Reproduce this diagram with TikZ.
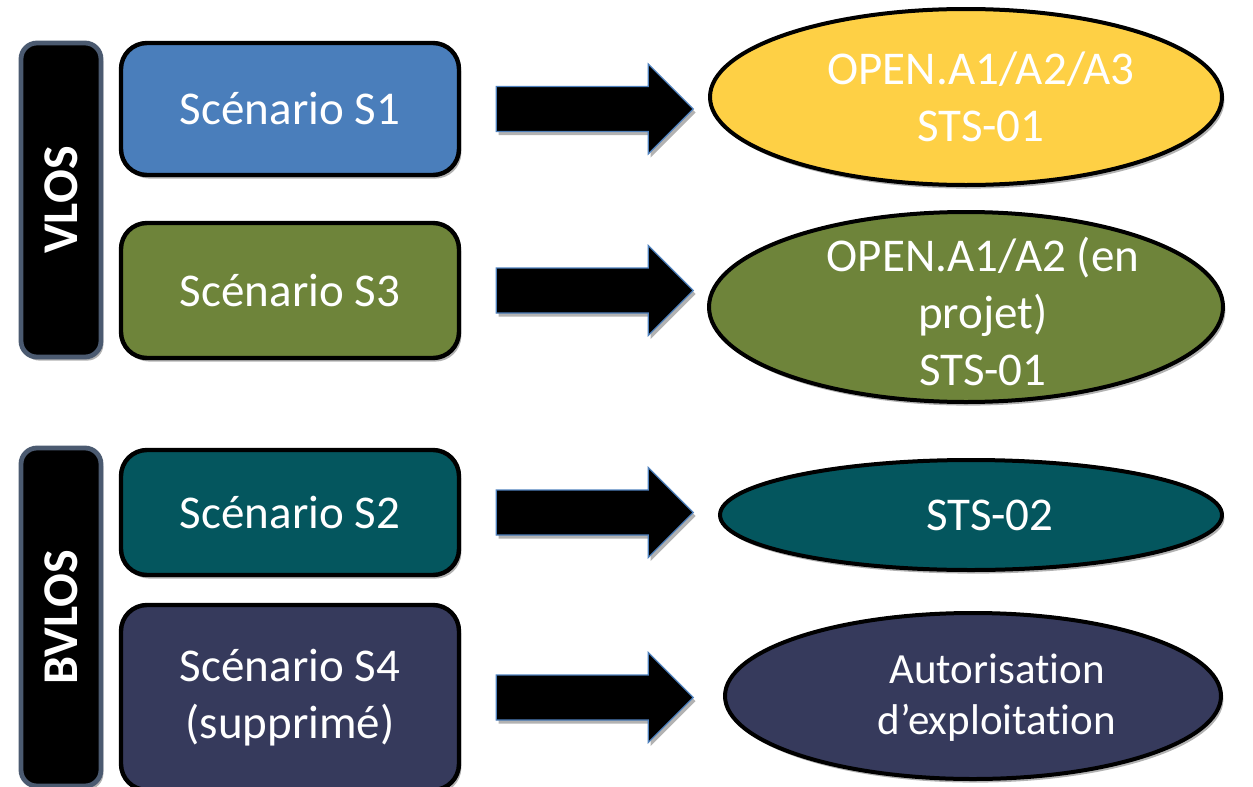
\documentclass[tikz,border=0pt]{standalone}
\usepackage{fontspec}
\setmainfont{Carlito}[Ligatures=NoCommon]
\usepackage{xcolor}
\usepackage{tikz}
\usetikzlibrary{shapes.geometric}
\usetikzlibrary{shadows}
\usetikzlibrary{calc}

\definecolor{scenOne}{HTML}{4A7EBB}
\definecolor{scenThree}{HTML}{6E843A}
\definecolor{scenTwo}{HTML}{04565E}
\definecolor{scenFour}{HTML}{363A5C}
\definecolor{resYellow}{HTML}{FED045}
\definecolor{barEdge}{HTML}{4B5A70}
\definecolor{arrowEdge}{HTML}{4F81BD}

\begin{document}
\begin{tikzpicture}[x=0.5pt,y=-0.5pt,
  softshadow/.style={drop shadow={shadow xshift=1.2pt, shadow yshift=-1.8pt, opacity=0.3, fill=black}},
  group/.style={draw=barEdge, fill=black, line width=2.4pt, rounded corners=8pt, minimum width=40pt,
    text=white, font=\fontsize{25}{28}\selectfont\bfseries, softshadow},
  scenario/.style={draw=black, line width=2.2pt, rounded corners=13pt, minimum width=169pt,
    text=white, align=center, font=\fontsize{23.5}{28.5}\selectfont, softshadow},
  result/.style={ellipse, draw=black, line width=2pt, inner sep=0pt, softshadow},
  restext/.style={text=white, align=center, font=\fontsize{23.5}{28.5}\selectfont},
  blockarrow/.style={fill=black, draw=arrowEdge, line width=0.6pt, softshadow}]

\useasboundingbox (0,0) rectangle (1253,787);

% group bars
\node [group, minimum height=157pt] (vlos) at (61,200) {\rotatebox{90}{VLOS}};
\node [group, minimum height=169pt] (bvlos) at (61,617) {\rotatebox{90}{BVLOS}};

% scenarios
\node [scenario, fill=scenOne, minimum height=66pt] (s1) at (290,109) {Scénario S1};
\node [scenario, fill=scenThree, minimum height=67.5pt] (s3) at (290,290.5) {Scénario S3};
\node [scenario, fill=scenTwo, minimum height=62.5pt] (s2) at (290,512.5) {Scénario S2};
\node [scenario, fill=scenFour, minimum height=92.5pt] (s4) at (290,697.5) {Scénario S4\\(supprimé)};

% results
\node [result, fill=resYellow, minimum width=256pt, minimum height=88pt] (r1) at (966,97) {};
\node [restext] (r1txt) at ($(r1)+(15,0)$) {OPEN.A1/A2/A3\\STS-01};
\node [result, fill=scenThree, minimum width=257pt, minimum height=95pt] (r3) at (966,307) {};
\node [restext] (r3txt) at ($(r3)+(17,4)$) {OPEN.A1/A2 (en\\projet)\\STS-01};
\node [result, fill=scenTwo, minimum width=251pt, minimum height=55pt] (r2) at (971,515) {};
\node [restext] (r2txt) at ($(r2)+(19,0)$) {STS-02};
\node [result, fill=scenFour, minimum width=248pt, minimum height=83pt] (r4) at (973,696) {};
\node [restext, font=\fontsize{21.5}{25.5}\selectfont] (r4txt) at ($(r4)+(24,2)$) {Autorisation\\d’exploitation};

% block arrows
\foreach \s in {s1,s3,s2,s4}
  \draw [blockarrow] ($(\s.east)+(35,0)$) -- ++(0,-22.5) -- ++(152,0) -- ++(0,-22.5)
    -- ++(45,45) -- ++(-45,45) -- ++(0,-22.5) -- ++(-152,0) -- cycle;

\end{tikzpicture}
\end{document}
